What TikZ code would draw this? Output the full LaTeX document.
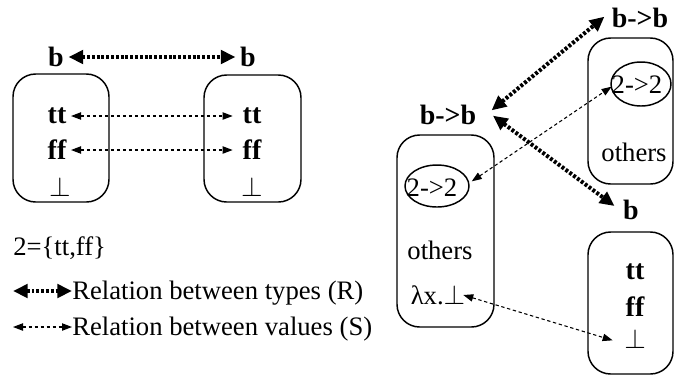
\documentclass[tikz,border=0pt]{standalone}
\usepackage{fontspec}
\setmainfont{Liberation Serif}
\usetikzlibrary{arrows.meta,shapes.geometric}
\begin{document}
\begin{tikzpicture}[x=0.75pt,y=-0.75pt,
  every node/.style={font=\fontsize{20}{24}\selectfont},
  lbl/.style={font=\fontsize{21}{25}\selectfont\bfseries},
  typebox/.style={draw, line width=1.1pt, rounded corners=17pt, inner sep=0pt},
  valring/.style={draw, ellipse, line width=1.1pt, inner sep=0pt},
  typerel/.style={line width=3pt, dash pattern=on 2.2pt off 1.4pt,
    {Triangle[length=11pt,width=10pt]}-{Triangle[length=11pt,width=10pt]}},
  valrel/.style={line width=0.8pt, dash pattern=on 2.5pt off 2pt,
    {Triangle[length=7.5pt,width=5.5pt]}-{Triangle[length=7.5pt,width=5.5pt]}}]
\useasboundingbox (0,0) rectangle (675,380);

% ---- the type b related to itself ----
\node[lbl] (bL) at (56,57) {b};
\node[lbl] (bR) at (248,57) {b};
\node[typebox, minimum width=72pt, minimum height=96pt] (boxL) at (61,138) {};
\node[typebox, minimum width=72.75pt, minimum height=95.25pt] (boxR) at (252.5,138.5) {};
\node[lbl] (ttL) at (57,116) {tt};
\node[lbl] (ffL) at (57,150) {ff};
\node (botL) at (60,187) {$\perp$};
\node[lbl] (ttR) at (252,116) {tt};
\node[lbl] (ffR) at (252,150) {ff};
\node (botR) at (252,187) {$\perp$};
\draw[typerel] (bL) -- (bR);
\draw[valrel] (ttL) -- ([xshift=-4pt]ttR.west);
\draw[valrel] (ffL) -- ([xshift=-4pt]ffR.west);

% ---- legend ----
\node[anchor=west, inner sep=0pt] (two) at (13,248) {2=\{tt,ff\}};
\node[anchor=west, inner sep=0pt] (legR) at (72,293) {Relation between types (R)};
\node[anchor=west, inner sep=0pt] (legS) at (72,329) {Relation between values (S)};
\coordinate (legRa) at (13,291);
\coordinate (legSa) at (13,327);
\draw[typerel] (legRa) -- (legR.west |- legRa);
\draw[valrel] (legSa) -- (legS.west |- legSa);

% ---- the type b->b ----
\node[lbl] (bbA) at (448,115) {b->b};
\node[typebox, minimum width=72.75pt, minimum height=144pt] (boxA) at (445.5,231) {};
\node[valring, minimum width=48pt, minimum height=31.5pt] (ringA) at (437,186) {};
\node (fA) at (432,188) {2->2};
\node (othA) at (440,250) {others};
\node (lam) at (438,295) {λx.$\perp$};

\node[lbl] (bbB) at (640,18) {b->b};
\node[typebox, minimum width=63.75pt, minimum height=109.5pt] (boxB) at (630.5,111) {};
\node[valring, minimum width=45pt, minimum height=33pt] (ringB) at (641,84) {};
\node (fB) at (637,85) {2->2};
\node (othB) at (634,152) {others};

\node[lbl] (bC) at (631,210) {b};
\node[typebox, minimum width=63.75pt, minimum height=106.5pt] (boxC) at (630.5,303) {};
\node[lbl, inner sep=2pt] (ttC) at (635,272) {tt};
\node[lbl, inner sep=2pt] (ffC) at (635,307) {ff};
\node[inner sep=2pt] (botC) at (635,339) {$\perp$};

\draw[typerel] ([xshift=8pt,yshift=3.5pt]bbA.east) -- ([xshift=-2pt,yshift=1pt]bbB.west);
\draw[typerel] ([xshift=9pt,yshift=-0.5pt]bbA.east) -- ([xshift=-3pt,yshift=3pt]bC.west);
\draw[valrel] ([xshift=1.5pt,yshift=3.5pt]ringA.east) -- ([xshift=1pt,yshift=-2pt]ringB.west);
\draw[valrel] ([xshift=-5pt]lam.east) -- ([xshift=-6.5pt,yshift=-1pt]botC.west);
\end{tikzpicture}
\end{document}
